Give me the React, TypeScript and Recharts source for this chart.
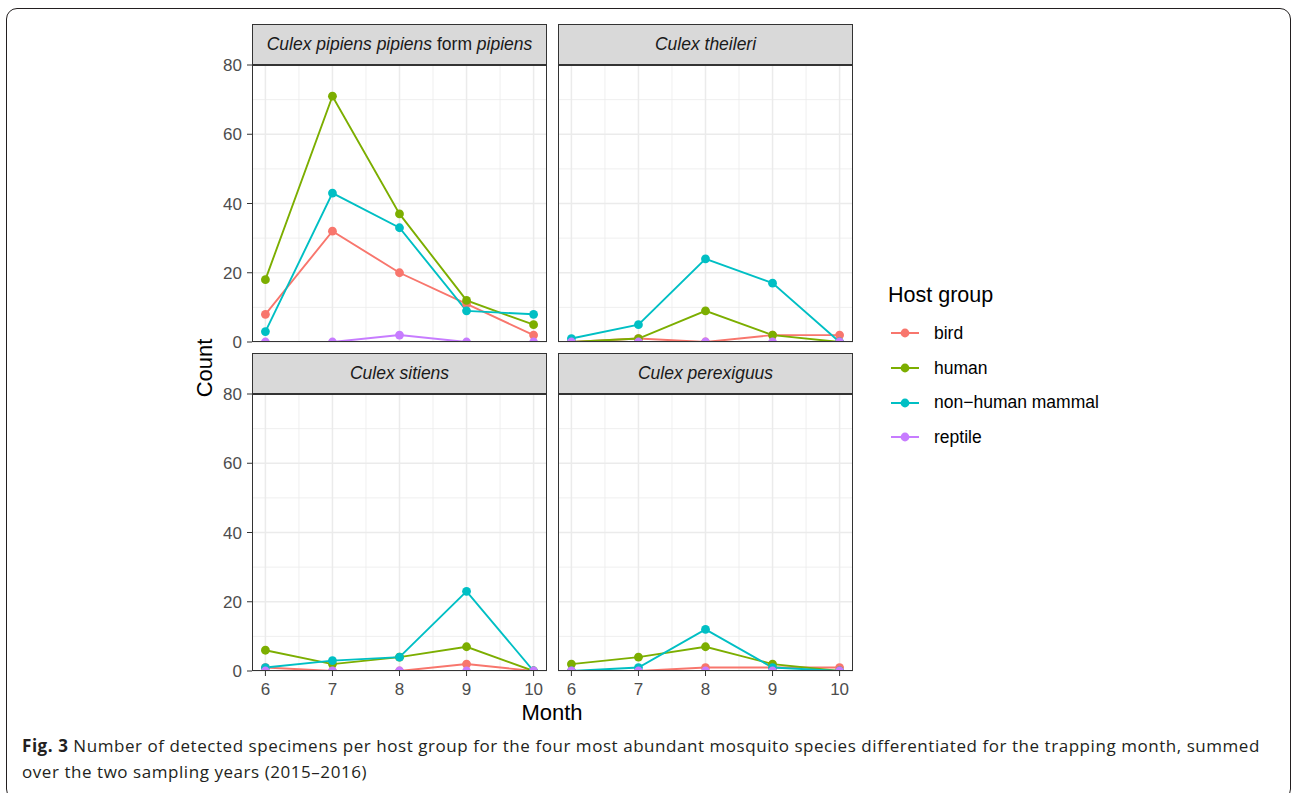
import React from "react";
import { LineChart, Line, XAxis, YAxis, CartesianGrid } from "recharts";

const FONT = "'Liberation Sans', Arial, Helvetica, sans-serif";
const CAPTION_FONT = "'Open Sans', 'Noto Sans', sans-serif";

// months on the x axis, host groups and their ggplot colours
const MONTHS = [6, 7, 8, 9, 10];
const MONTH_TICKS = [6, 7, 8, 9, 10];
const MONTH_MINOR = [6.5, 7.5, 8.5, 9.5];
const COUNT_TICKS = [0, 20, 40, 60, 80];
const COUNT_MINOR = [10, 30, 50, 70];
const HOSTS = ["bird", "human", "non\u2212human mammal", "reptile"];
const HOST_KEYS = ["bird", "human", "mammal", "reptile"];
const HOST_COLORS = ["#F8766D", "#7CAE00", "#00BFC4", "#C77CFF"];

// counts per month (6..10)
const PIPIENS_BIRD = [8, 32, 20, 11, 2];
const PIPIENS_HUMAN = [18, 71, 37, 12, 5];
const PIPIENS_MAMMAL = [3, 43, 33, 9, 8];
const PIPIENS_REPTILE = [0, 0, 2, 0, 0];

const THEILERI_BIRD = [0, 1, 0, 2, 2];
const THEILERI_HUMAN = [0, 1, 9, 2, 0];
const THEILERI_MAMMAL = [1, 5, 24, 17, 0];
const THEILERI_REPTILE = [0, 0, 0, 0, 0];

const SITIENS_BIRD = [1, 0, 0, 2, 0];
const SITIENS_HUMAN = [6, 2, 4, 7, 0];
const SITIENS_MAMMAL = [1, 3, 4, 23, 0];
const SITIENS_REPTILE = [0, 0, 0, 0, 0];

const PEREXIGUUS_BIRD = [0, 0, 1, 1, 1];
const PEREXIGUUS_HUMAN = [2, 4, 7, 2, 0];
const PEREXIGUUS_MAMMAL = [0, 1, 12, 1, 0];
const PEREXIGUUS_REPTILE = [0, 0, 0, 0, 0];

const toRows = (bird: number[], human: number[], mammal: number[], reptile: number[]) =>
  MONTHS.map((m, i) => ({ month: m, bird: bird[i], human: human[i], mammal: mammal[i], reptile: reptile[i] }));

const PANEL_W = 295;
const PLOT_H = 277;
const STRIP_H = 41;
const COL_LEFT = [252, 558];
const ROW_TOP = [24, 353];
const YW = 45;
const XH = 40;
const PAD = 14;

const italic = (s: string) => <i>{s}</i>;

const PANELS = [
  { rows: toRows(PIPIENS_BIRD, PIPIENS_HUMAN, PIPIENS_MAMMAL, PIPIENS_REPTILE), col: 0, row: 0,
    strip: <span>{italic("Culex pipiens pipiens")}{" form "}{italic("pipiens")}</span> },
  { rows: toRows(THEILERI_BIRD, THEILERI_HUMAN, THEILERI_MAMMAL, THEILERI_REPTILE), col: 1, row: 0,
    strip: italic("Culex theileri") },
  { rows: toRows(SITIENS_BIRD, SITIENS_HUMAN, SITIENS_MAMMAL, SITIENS_REPTILE), col: 0, row: 1,
    strip: italic("Culex sitiens") },
  { rows: toRows(PEREXIGUUS_BIRD, PEREXIGUUS_HUMAN, PEREXIGUUS_MAMMAL, PEREXIGUUS_REPTILE), col: 1, row: 1,
    strip: italic("Culex perexiguus") },
];

function Panel({ rows, strip, col, row }: { rows: any[]; strip: React.ReactNode; col: number; row: number }) {
  const showY = col === 0;
  const showX = row === 1;
  const plotLeft = COL_LEFT[col];
  const plotTop = ROW_TOP[row] + STRIP_H;
  const w = PANEL_W + (showY ? YW : 0);
  const h = PAD + PLOT_H + (showX ? XH : PAD);
  const tick = { fontSize: 17, fill: "#4d4d4d", fontFamily: FONT };
  return (
    <>
      <div style={{ position: "absolute", left: plotLeft - (showY ? YW : 0), top: plotTop - PAD }}>
        <LineChart width={w} height={h} data={rows}
          margin={{ top: PAD, right: 0, bottom: showX ? 0 : PAD, left: 0 }}>
          <XAxis dataKey="month" type="number" domain={[5.8, 10.2]} ticks={MONTH_TICKS} interval={0} hide={!showX}
            height={XH} tick={tick} tickSize={5} tickMargin={7} axisLine={false} tickLine={{ stroke: "#333" }} />
          <YAxis type="number" domain={[0, 80]} ticks={COUNT_TICKS} interval={0} allowDataOverflow hide={!showY}
            width={YW} tick={tick} tickSize={5} tickMargin={5} axisLine={false} tickLine={{ stroke: "#333" }} />
          <CartesianGrid stroke="#ebebeb" strokeWidth={0.8} verticalValues={MONTH_MINOR} horizontalValues={COUNT_MINOR} />
          <CartesianGrid stroke="#ebebeb" strokeWidth={1.5} verticalValues={MONTH_TICKS} horizontalValues={COUNT_TICKS} />
          {HOST_KEYS.map((k, i) => (
            <Line key={"l" + k} dataKey={k} stroke={HOST_COLORS[i]} strokeWidth={1.9} dot={false}
              activeDot={false} isAnimationActive={false} />
          ))}
          {HOST_KEYS.map((k, i) => (
            <Line key={"p" + k} dataKey={k} stroke="none" activeDot={false} isAnimationActive={false}
              dot={{ r: 4.4, fill: HOST_COLORS[i], stroke: "none", strokeWidth: 0 }} />
          ))}
        </LineChart>
      </div>
      <div style={{
        position: "absolute", left: plotLeft, top: ROW_TOP[row], width: PANEL_W, height: STRIP_H,
        boxSizing: "border-box", border: "1.2px solid #333", background: "#d9d9d9",
        display: "flex", alignItems: "center", justifyContent: "center",
        fontFamily: FONT, fontSize: 17.5, color: "#1a1a1a", whiteSpace: "pre",
      }}>{strip}</div>
      <div style={{
        position: "absolute", left: plotLeft, top: plotTop, width: PANEL_W, height: PLOT_H,
        boxSizing: "border-box", border: "1.2px solid #333", pointerEvents: "none",
      }} />
    </>
  );
}

function LegendBox() {
  return (
    <div style={{ position: "absolute", left: 888, top: 280, fontFamily: FONT, color: "#000" }}>
      <div style={{ fontSize: 21.5, lineHeight: "30px" }}>Host group</div>
      <div style={{ marginTop: 6 }}>
        {HOSTS.map((name, i) => (
          <div key={name} style={{ display: "flex", alignItems: "center", height: 34.7 }}>
            <svg width={32} height={20} style={{ marginLeft: 2 }}>
              <line x1={1} y1={10} x2={29} y2={10} stroke={HOST_COLORS[i]} strokeWidth={2} />
              <circle cx={15} cy={10} r={4.4} fill={HOST_COLORS[i]} />
            </svg>
            <span style={{ marginLeft: 12, fontSize: 17.5 }}>{name}</span>
          </div>
        ))}
      </div>
    </div>
  );
}

export default function App() {
  return (
    <div style={{ position: "absolute", left: 0, top: 0, width: 1292, height: 793, background: "#fff", overflow: "hidden" }}>
      <div style={{
        position: "absolute", left: 6, top: 8, width: 1285, height: 792, boxSizing: "border-box",
        border: "1.5px solid #231f20", borderRadius: 11,
      }} />
      {PANELS.map((p, i) => <Panel key={i} rows={p.rows} strip={p.strip} col={p.col} row={p.row} />)}
      <div style={{
        position: "absolute", left: 205 - 60, top: 368 - 15, width: 120, height: 30, textAlign: "center",
        transform: "rotate(-90deg)", fontFamily: FONT, fontSize: 22, lineHeight: "30px", color: "#000",
      }}>Count</div>
      <div style={{
        position: "absolute", left: 452, top: 698, width: 200, textAlign: "center",
        fontFamily: FONT, fontSize: 22, lineHeight: "30px", color: "#000",
      }}>Month</div>
      <LegendBox />
      <div style={{
        position: "absolute", left: 22, top: 733, width: 1265, fontFamily: CAPTION_FONT, fontSize: 17,
        letterSpacing: 0.55, lineHeight: "26px", color: "#231f20", whiteSpace: "nowrap",
      }}>
        <b>Fig. 3</b> Number of detected specimens per host group for the four most abundant mosquito species differentiated for the trapping month, summed
        <br />over the two sampling years (2015–2016)
      </div>
    </div>
  );
}
